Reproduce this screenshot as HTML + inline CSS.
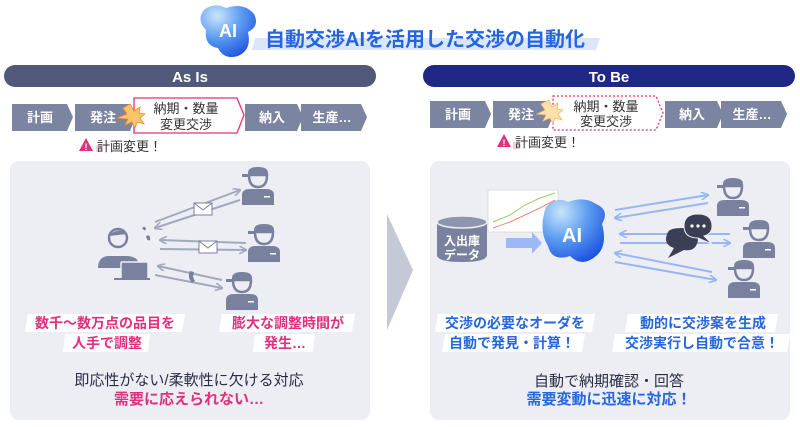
<!DOCTYPE html>
<html><head><meta charset="utf-8"><style>
body{margin:0;background:#fff;}
svg text{font-family:"Liberation Sans","Noto Sans CJK JP",sans-serif;}
</style></head><body>
<svg width="800" height="422" viewBox="0 0 800 422" xmlns="http://www.w3.org/2000/svg">
<defs>
<radialGradient id="ai" cx="0.3" cy="0.2" r="0.9"><stop offset="0" stop-color="#c8e6fb"/><stop offset="0.5" stop-color="#5a9af0"/><stop offset="1" stop-color="#1a4fe0"/></radialGradient>
<symbol id="w" viewBox="0 0 40 40">
<path d="M10 8 Q10 2 20 2 Q30 2 30 8 L30 10 L10 10 Z M4 9 L12 9 L12 12 L4 12 Z" fill="#7a819e"/>
<path d="M11 10 L29 10 Q29 22 20 22 Q11 22 11 10 Z" fill="none" stroke="#7a819e" stroke-width="2.5"/>
<path d="M4 40 L4 30 Q4 24 12 24 L28 24 Q36 24 36 30 L36 40 Z" fill="#7a819e"/>
<rect x="26" y="31" width="6" height="1.5" fill="#fff"/>
</symbol>
<marker id="ah" markerWidth="8" markerHeight="8" refX="7" refY="4" orient="auto" markerUnits="userSpaceOnUse"><path d="M0 0 L8 4 L0 8" fill="none" stroke="#a3a9bd" stroke-width="1.6"/></marker>
<marker id="ab" markerWidth="8" markerHeight="8" refX="7" refY="4" orient="auto" markerUnits="userSpaceOnUse"><path d="M0 0 L8 4 L0 8" fill="none" stroke="#98b6f4" stroke-width="1.6"/></marker>
</defs>
<!-- title -->
<path d="M255 38 L600 38 L596 50 L252 50 Z" fill="#dbe6fb"/>
<path d="M204 10 Q214 2 226 8 Q244 2 254 14 Q260 26 248 32 Q252 50 238 56 Q224 60 218 48 Q204 46 206 30 Q196 20 204 10Z" fill="url(#ai)"/>
<text x="228" y="37" font-size="18" font-weight="bold" fill="#fff" text-anchor="middle">AI</text>
<text x="265" y="46" font-size="20" font-weight="bold" fill="#2566e0">自動交渉AIを活用した交渉の自動化</text>
<!-- bars -->
<rect x="4" y="65" width="372" height="22" rx="11" fill="#50597a"/>
<text x="190" y="82" font-size="15" font-weight="bold" fill="#fff" text-anchor="middle">As Is</text>
<rect x="423" y="65" width="372" height="22" rx="11" fill="#1f2885"/>
<text x="609" y="82" font-size="15" font-weight="bold" fill="#fff" text-anchor="middle">To Be</text>
<!-- as is chevrons -->
<g fill="#7b84a0">
<path d="M12 104 L67 104 L73 117 L67 131 L12 131 Z"/>
<path d="M75 104 L130 104 L136 117 L130 131 L75 131 Z"/>
<path d="M245 104 L297 104 L303 117 L297 131 L245 131 Z"/>
<path d="M301 104 L361 104 L367 117 L361 131 L301 131 Z"/>
</g>
<g font-size="13" font-weight="bold" fill="#fff" text-anchor="middle">
<text x="40" y="122">計画</text><text x="103" y="122">発注</text><text x="272" y="122">納入</text><text x="332" y="122">生産…</text>
</g>
<path d="M134 98 L237 98 L244 115 L237 133 L134 133 Z" fill="#fff" stroke="#e0307e" stroke-width="1.3"/>
<text x="186" y="113" font-size="13" fill="#333" text-anchor="middle">納期・数量</text>
<text x="186" y="129" font-size="13" fill="#333" text-anchor="middle">変更交渉</text>
<path d="M130 104 L134 111 L140 107 L139 113 L145 114 L140 118 L144 124 L137 122 L135 128 L132 122 L125 125 L128 119 L117 118 L127 114 L123 108 Z" fill="#fbc46a" stroke="#f08c2a" stroke-width="0.8"/>
<path d="M96 145 L103 145 L103 152 L96 152 Z" fill="#f6cde0"/>
<path d="M86 138 L93 151 L79 151 Z" fill="#e0307e"/>
<text x="86" y="150" font-size="9" font-weight="bold" fill="#fff" text-anchor="middle">!</text>
<text x="97" y="151" font-size="13" fill="#333">計画変更！</text>
<!-- to be chevrons -->
<g fill="#7b84a0">
<path d="M430 101 L485 101 L491 114 L485 128 L430 128 Z"/>
<path d="M493 101 L548 101 L554 114 L548 128 L493 128 Z"/>
<path d="M665 101 L717 101 L723 114 L717 128 L665 128 Z"/>
<path d="M721 101 L781 101 L787 114 L781 128 L721 128 Z"/>
</g>
<g font-size="13" font-weight="bold" fill="#fff" text-anchor="middle">
<text x="458" y="119">計画</text><text x="521" y="119">発注</text><text x="692" y="119">納入</text><text x="752" y="119">生産…</text>
</g>
<path d="M553 96 L656 96 L663 113 L656 130 L553 130 Z" fill="#fff" stroke="#e0307e" stroke-width="1.3" stroke-dasharray="2 2"/>
<text x="606" y="111" font-size="13" fill="#333" text-anchor="middle">納期・数量</text>
<text x="606" y="126" font-size="13" fill="#333" text-anchor="middle">変更交渉</text>
<path d="M549 100 L552 107 L558 103 L557 109 L563 110 L558 114 L562 120 L555 118 L553 124 L550 118 L543 121 L546 115 L537 114 L545 110 L541 104 Z" fill="#fde0aa" stroke="#f5b770" stroke-width="0.8"/>
<path d="M513 142 L520 142 L520 149 L513 149 Z" fill="#f6cde0"/>
<path d="M504 134 L511 147 L497 147 Z" fill="#e0307e"/>
<text x="504" y="146" font-size="9" font-weight="bold" fill="#fff" text-anchor="middle">!</text>
<text x="515" y="147" font-size="13" fill="#333">計画変更！</text>
<!-- panels -->
<rect x="10" y="161" width="360" height="259" rx="9" fill="#eceef3"/>
<rect x="430" y="161" width="360" height="259" rx="9" fill="#eceef3"/>
<path d="M387 214 L413 270 L387 330 Z" fill="#c5c9d6"/>
<!-- as is graphics -->
<circle cx="118" cy="238" r="9" fill="none" stroke="#7a819e" stroke-width="2.5"/>
<path d="M109 236 Q118 226 127 234" fill="#7a819e"/>
<path d="M98 268 Q98 257 108 256 L128 256 Q137 257 138 262 L138 268 Z" fill="#7a819e"/>
<rect x="121" y="262" width="27" height="17" rx="1" fill="#7a819e" stroke="#eceef3" stroke-width="1.5"/>
<rect x="114" y="278" width="36" height="2" fill="#7a819e"/>
<path d="M142 228 q3 -3 4 1 q-1 3 -4 -1Z M146 236 q5 -2 4 4 q-3 2 -4 -4Z" fill="#7a819e"/>
<g stroke="#a3a9bd" stroke-width="2" fill="none">
<line x1="155" y1="222" x2="240" y2="190" marker-end="url(#ah)"/>
<line x1="240" y1="200" x2="155" y2="228" marker-end="url(#ah)"/>
<line x1="246" y1="243" x2="160" y2="240" marker-end="url(#ah)"/>
<line x1="160" y1="249" x2="246" y2="250" marker-end="url(#ah)"/>
<line x1="222" y1="280" x2="158" y2="266" marker-end="url(#ah)"/>
<line x1="155" y1="275" x2="222" y2="288" marker-end="url(#ah)"/>
</g>
<rect x="194" y="203" width="18" height="12" fill="#fff" stroke="#7a819e"/><path d="M194 203 L203 210 L212 203" fill="none" stroke="#7a819e"/>
<rect x="199" y="241" width="18" height="12" fill="#fff" stroke="#7a819e"/><path d="M199 241 L208 248 L217 241" fill="none" stroke="#7a819e"/>
<path d="M190 271 q-3 6 2 12 l3 -2 q-3 -4 -1 -9 Z" fill="#7a819e"/>
<use href="#w" x="238" y="165" width="40" height="40"/>
<use href="#w" x="244" y="222" width="40" height="40"/>
<use href="#w" x="222" y="270" width="40" height="40"/>
<g font-size="14" font-weight="bold" fill="#e0307e" text-anchor="middle">
<path d="M28 314 L185 314 L182 332 L25 332 Z" fill="#fff"/>
<path d="M65 334 L150 334 L148 352 L63 352 Z" fill="#fff"/>
<path d="M222 314 L355 314 L352 332 L219 332 Z" fill="#fff"/>
<path d="M255 334 L315 334 L313 352 L253 352 Z" fill="#fff"/>
<text x="105" y="328">数千～数万点の品目を</text>
<text x="107" y="348">人手で調整</text>
<text x="288" y="328">膨大な調整時間が</text>
<text x="285" y="348">発生…</text>
</g>
<text x="189" y="385" font-size="15" fill="#2a2e45" text-anchor="middle">即応性がない/柔軟性に欠ける対応</text>
<text x="189" y="404" font-size="15" font-weight="bold" fill="#e0307e" text-anchor="middle">需要に応えられない…</text>
<!-- to be graphics -->
<rect x="488" y="190" width="70" height="42" fill="#fff" stroke="#ccc" stroke-width="0.6"/>
<path d="M493 222 L510 215 L525 205 L540 198 L555 193" fill="none" stroke="#9ccc65" stroke-width="1"/>
<path d="M493 228 L510 222 L525 215 L540 208 L555 200" fill="none" stroke="#ef8a7a" stroke-width="1"/>
<path d="M437 222 L437 255 Q437 262 462 262 Q487 262 487 255 L487 222 Z" fill="#7a819e"/>
<ellipse cx="462" cy="222" rx="25" ry="6" fill="#8e95af" stroke="#eceef3" stroke-width="1.5"/>
<text x="462" y="245" font-size="12" font-weight="bold" fill="#fff" text-anchor="middle">入出庫</text>
<text x="462" y="259" font-size="12" font-weight="bold" fill="#fff" text-anchor="middle">データ</text>
<path d="M506 238 L532 238 L532 232 L542 243 L532 254 L532 248 L506 248 Z" fill="#9db9f5"/>
<path d="M546 207 Q556 196 568 202 Q584 196 596 204 Q610 210 602 224 Q608 246 596 256 Q582 268 570 256 Q552 262 548 246 Q538 230 546 207Z" fill="url(#ai)"/>
<text x="572" y="242" font-size="20" font-weight="bold" fill="#fff" text-anchor="middle">AI</text>
<g stroke="#98b6f4" stroke-width="2" fill="none">
<line x1="615" y1="210" x2="708" y2="195" marker-end="url(#ab)"/>
<line x1="708" y1="203" x2="615" y2="218" marker-end="url(#ab)"/>
<line x1="730" y1="234" x2="620" y2="234" marker-end="url(#ab)"/>
<line x1="620" y1="243" x2="730" y2="243" marker-end="url(#ab)"/>
<line x1="712" y1="272" x2="615" y2="253" marker-end="url(#ab)"/>
<line x1="615" y1="262" x2="716" y2="280" marker-end="url(#ab)"/>
</g>
<path d="M668 232 Q662 244 674 248 L668 258 L684 250 Q696 252 698 240 Q696 228 682 228 Q670 228 668 232Z" fill="#3a3f55"/>
<path d="M684 226 Q684 214 698 214 Q712 214 712 226 Q712 234 704 236 L712 244 L698 238 Q684 238 684 226Z" fill="#3a3f55" stroke="#eceef3"/>
<circle cx="692" cy="226" r="1.6" fill="#fff"/><circle cx="698" cy="226" r="1.6" fill="#fff"/><circle cx="704" cy="226" r="1.6" fill="#fff"/>
<use href="#w" x="713" y="176" width="40" height="40"/>
<use href="#w" x="739" y="218" width="40" height="40"/>
<use href="#w" x="724" y="258" width="40" height="40"/>
<g font-size="14" font-weight="bold" fill="#2566e0" text-anchor="middle">
<path d="M438 314 L595 314 L592 332 L435 332 Z" fill="#fff"/>
<path d="M445 334 L585 334 L582 352 L442 352 Z" fill="#fff"/>
<path d="M628 314 L778 314 L775 332 L625 332 Z" fill="#fff"/>
<path d="M615 334 L790 334 L787 352 L612 352 Z" fill="#fff"/>
<text x="515" y="328">交渉の必要なオーダを</text>
<text x="512" y="348">自動で発見・計算！</text>
<text x="703" y="328">動的に交渉案を生成</text>
<text x="702" y="348">交渉実行し自動で合意！</text>
</g>
<text x="609" y="386" font-size="15" fill="#2a2e45" text-anchor="middle">自動で納期確認・回答</text>
<text x="609" y="404" font-size="15" font-weight="bold" fill="#2566e0" text-anchor="middle">需要変動に迅速に対応！</text>
</svg>
</body></html>
